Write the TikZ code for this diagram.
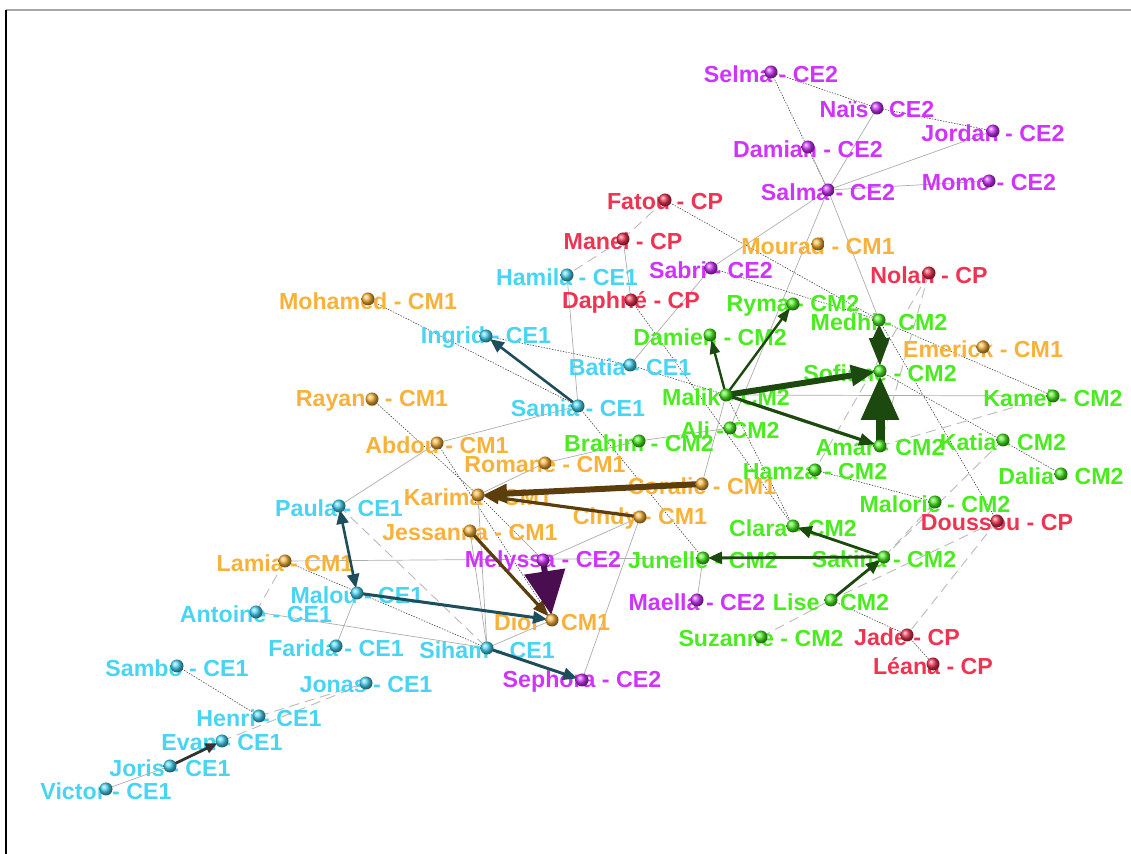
\documentclass[tikz,border=0pt]{standalone}
\usepackage{fontspec}
\setmainfont{Liberation Sans}
\usetikzlibrary{arrows.meta}

\definecolor{cpcol}{RGB}{238,52,82}
\definecolor{ceonecol}{RGB}{72,212,242}
\definecolor{cetwocol}{RGB}{206,52,250}
\definecolor{cmonecol}{RGB}{246,178,58}
\definecolor{cmtwocol}{RGB}{74,236,32}
\definecolor{brownarr}{RGB}{92,62,14}
\definecolor{greenarr}{RGB}{28,74,14}
\definecolor{tealarr}{RGB}{30,78,92}
\definecolor{purplearr}{RGB}{74,14,80}

\tikzset{
  ball/.style={circle,inner sep=0pt,minimum size=6.5pt,shade,ball color=#1},
  lab/.style={text=#1,font=\fontsize{11.6}{13}\selectfont\bfseries,inner sep=0pt,yshift=-1pt},
  dotedge/.style={black!75,line width=0.3pt,dash pattern=on 0.7pt off 0.7pt},
  greyedge/.style={gray!65,line width=0.35pt},
  dashedge/.style={gray!55,line width=0.45pt,dash pattern=on 5pt off 3pt},
  bigarr/.style={line width=#1,shorten >=2.5pt,shorten <=2pt}
}

\begin{document}
\begin{tikzpicture}[x=0.5pt,y=-0.5pt]
\useasboundingbox (0,0) rectangle (1131,854);
\draw[gray!70,line width=0.8pt] (6,10) -- (1131,10);
\draw[line width=0.8pt] (6,10) -- (6,854);

% CE2
\coordinate (selma) at (771,72);
\coordinate (nais) at (877,108);
\coordinate (jordan) at (993,131);
\coordinate (damian) at (808,147);
\coordinate (momo) at (989,181);
\coordinate (salma) at (828,190);
\coordinate (sabri) at (711,268);
\coordinate (melyssa) at (543,560);
\coordinate (maella) at (697,600);
\coordinate (sephora) at (582,680);
% CP
\coordinate (fatou) at (665,200);
\coordinate (manel) at (623,239);
\coordinate (nolan) at (929,273);
\coordinate (daphne) at (631,300);
\coordinate (doussou) at (997,521);
\coordinate (jade) at (907,635);
\coordinate (leana) at (933,664);
% CM1
\coordinate (mourad) at (818,244);
\coordinate (mohamed) at (368,299);
\coordinate (emerick) at (983,347);
\coordinate (rayane) at (372,399);
\coordinate (abdou) at (437,443);
\coordinate (romane) at (545,463);
\coordinate (coralie) at (702,484);
\coordinate (karima) at (478,495);
\coordinate (cindy) at (640,517);
\coordinate (jessanna) at (470,531);
\coordinate (lamia) at (285,561);
\coordinate (dior) at (552,620);
% CM2
\coordinate (ryma) at (793,304);
\coordinate (medhi) at (879,320);
\coordinate (damien) at (710,335);
\coordinate (sofiane) at (880,371);
\coordinate (malik) at (726,395);
\coordinate (kamel) at (1053,396);
\coordinate (ali) at (730,428);
\coordinate (brahim) at (639,441);
\coordinate (katia) at (1003,440);
\coordinate (amar) at (880,446);
\coordinate (hamza) at (815,470);
\coordinate (dalia) at (1061,474);
\coordinate (malorie) at (935,502);
\coordinate (clara) at (793,526);
\coordinate (junelle) at (703,558);
\coordinate (sakina) at (884,557);
\coordinate (lise) at (831,600);
\coordinate (suzanne) at (761,637);
% CE1
\coordinate (hamila) at (567,275);
\coordinate (ingrid) at (486,336);
\coordinate (batia) at (630,365);
\coordinate (samia) at (578,406);
\coordinate (paula) at (339,506);
\coordinate (malou) at (357,593);
\coordinate (antoine) at (256,612);
\coordinate (farida) at (336,646);
\coordinate (siham) at (487,648);
\coordinate (sambo) at (177,666);
\coordinate (jonas) at (366,683);
\coordinate (henri) at (259,716);
\coordinate (evan) at (222,741);
\coordinate (joris) at (170,766);
\coordinate (victor) at (106,789);

% thin links
\draw[dotedge] (selma) -- (nais);
\draw[dotedge] (nais) -- (jordan);
\draw[dotedge] (selma) -- (salma);
\draw[greyedge] (damian) -- (salma);
\draw[greyedge] (nais) -- (salma);
\draw[greyedge] (jordan) -- (salma);
\draw[greyedge] (momo) -- (salma);
\draw[greyedge] (salma) -- (sabri);
\draw[greyedge] (salma) -- (medhi);
\draw[greyedge] (salma) -- (ali);
\draw[dotedge] (fatou) -- (medhi);
\draw[dashedge] (fatou) -- (manel);
\draw[dashedge] (manel) -- (hamila);
\draw[greyedge] (manel) -- (daphne);
\draw[dotedge] (daphne) -- (clara);
\draw[greyedge] (hamila) -- (samia);
\draw[greyedge] (sabri) -- (batia);
\draw[dotedge] (sabri) -- (medhi);
\draw[dashedge] (nolan) -- (hamza);
\draw[dashedge] (nolan) -- (amar);
\draw[dotedge] (medhi) -- (kamel);
\draw[dotedge] (medhi) -- (doussou);
\draw[dotedge] (sofiane) -- (dalia);
\draw[greyedge] (malik) -- (kamel);
\draw[dashedge] (amar) -- (kamel);
\draw[dashedge] (katia) -- (sakina);
\draw[dashedge] (sakina) -- (malorie);
\draw[dotedge] (hamza) -- (malorie);
\draw[dashedge] (doussou) -- (jade);
\draw[dashedge] (doussou) -- (lise);
\draw[dotedge] (lise) -- (jade);
\draw[dotedge] (jade) -- (leana);
\draw[dashedge] (suzanne) -- (lise);
\draw[dotedge] (malik) -- (clara);
\draw[greyedge] (junelle) -- (maella);
\draw[greyedge] (cindy) -- (sephora);
\draw[dotedge] (mohamed) -- (samia);
\draw[dotedge] (ingrid) -- (batia);
\draw[dotedge] (batia) -- (malik);
\draw[dotedge] (samia) -- (junelle);
\draw[greyedge] (abdou) -- (samia);
\draw[greyedge] (romane) -- (brahim);
\draw[greyedge] (brahim) -- (ali);
\draw[greyedge] (coralie) -- (malik);
\draw[greyedge] (romane) -- (karima);
\draw[dotedge] (rayane) -- (karima);
\draw[dotedge] (abdou) -- (dior);
\draw[dotedge] (karima) -- (melyssa);
\draw[greyedge] (karima) -- (siham);
\draw[greyedge] (jessanna) -- (siham);
\draw[greyedge] (lamia) -- (junelle);
\draw[greyedge] (cindy) -- (melyssa);
\draw[dotedge] (lamia) -- (siham);
\draw[greyedge] (antoine) -- (siham);
\draw[dashedge] (paula) -- (siham);
\draw[dashedge] (lamia) -- (antoine);
\draw[greyedge] (paula) -- (abdou);
\draw[greyedge] (malou) -- (farida);
\draw[greyedge] (siham) -- (dior);
\draw[dotedge] (sambo) -- (henri);
\draw[dashedge] (henri) -- (jonas);
\draw[dashedge] (evan) -- (jonas);
\draw[greyedge] (victor) -- (joris);

% labels
\node[lab=cetwocol] (selmaL) at (selma) {Selma - CE2};
\node[lab=cetwocol] (naisL) at (nais) {Naïs - CE2};
\node[lab=cetwocol] (jordanL) at (jordan) {Jordan - CE2};
\node[lab=cetwocol] (damianL) at (damian) {Damian - CE2};
\node[lab=cetwocol] (momoL) at (momo) {Momo - CE2};
\node[lab=cetwocol] (salmaL) at (salma) {Salma - CE2};
\node[lab=cetwocol] (sabriL) at (sabri) {Sabri - CE2};
\node[lab=cetwocol] (melyssaL) at (melyssa) {Melyssa - CE2};
\node[lab=cetwocol] (maellaL) at (maella) {Maella - CE2};
\node[lab=cetwocol] (sephoraL) at (sephora) {Sephora - CE2};
\node[lab=cpcol] (fatouL) at (fatou) {Fatou - CP};
\node[lab=cpcol] (manelL) at (manel) {Manel - CP};
\node[lab=cpcol] (nolanL) at (nolan) {Nolan - CP};
\node[lab=cpcol] (daphneL) at (daphne) {Daphné - CP};
\node[lab=cpcol] (doussouL) at (doussou) {Doussou - CP};
\node[lab=cpcol] (jadeL) at (jade) {Jade - CP};
\node[lab=cpcol] (leanaL) at (leana) {Léana - CP};
\node[lab=cmonecol] (mouradL) at (mourad) {Mourad - CM1};
\node[lab=cmonecol] (mohamedL) at (mohamed) {Mohamed - CM1};
\node[lab=cmonecol] (emerickL) at (emerick) {Emerick - CM1};
\node[lab=cmonecol] (rayaneL) at (rayane) {Rayane - CM1};
\node[lab=cmonecol] (abdouL) at (abdou) {Abdou - CM1};
\node[lab=cmonecol] (romaneL) at (romane) {Romane - CM1};
\node[lab=cmonecol] (coralieL) at (coralie) {Coralie - CM1};
\node[lab=cmonecol] (karimaL) at (karima) {Karima - CM1};
\node[lab=cmonecol] (cindyL) at (cindy) {Cindy - CM1};
\node[lab=cmonecol] (jessannaL) at (jessanna) {Jessanna - CM1};
\node[lab=cmonecol] (lamiaL) at (lamia) {Lamia - CM1};
\node[lab=cmonecol] (diorL) at (dior) {Dior - CM1};
\node[lab=cmtwocol] (rymaL) at (ryma) {Ryma - CM2};
\node[lab=cmtwocol] (medhiL) at (medhi) {Medhi - CM2};
\node[lab=cmtwocol] (damienL) at (damien) {Damien - CM2};
\node[lab=cmtwocol] (sofianeL) at (sofiane) {Sofiane - CM2};
\node[lab=cmtwocol] (malikL) at (malik) {Malik - CM2};
\node[lab=cmtwocol] (kamelL) at (kamel) {Kamel - CM2};
\node[lab=cmtwocol] (aliL) at (ali) {Ali - CM2};
\node[lab=cmtwocol] (brahimL) at (brahim) {Brahim - CM2};
\node[lab=cmtwocol] (katiaL) at (katia) {Katia - CM2};
\node[lab=cmtwocol] (amarL) at (amar) {Amar - CM2};
\node[lab=cmtwocol] (hamzaL) at (hamza) {Hamza - CM2};
\node[lab=cmtwocol] (daliaL) at (dalia) {Dalia - CM2};
\node[lab=cmtwocol] (malorieL) at (malorie) {Malorie - CM2};
\node[lab=cmtwocol] (claraL) at (clara) {Clara - CM2};
\node[lab=cmtwocol] (junelleL) at (junelle) {Junelle - CM2};
\node[lab=cmtwocol] (sakinaL) at (sakina) {Sakina - CM2};
\node[lab=cmtwocol] (liseL) at (lise) {Lise - CM2};
\node[lab=cmtwocol] (suzanneL) at (suzanne) {Suzanne - CM2};
\node[lab=ceonecol] (hamilaL) at (hamila) {Hamila - CE1};
\node[lab=ceonecol] (ingridL) at (ingrid) {Ingrid - CE1};
\node[lab=ceonecol] (batiaL) at (batia) {Batia - CE1};
\node[lab=ceonecol] (samiaL) at (samia) {Samia - CE1};
\node[lab=ceonecol] (paulaL) at (paula) {Paula - CE1};
\node[lab=ceonecol] (malouL) at (malou) {Malou - CE1};
\node[lab=ceonecol] (antoineL) at (antoine) {Antoine - CE1};
\node[lab=ceonecol] (faridaL) at (farida) {Farida - CE1};
\node[lab=ceonecol] (sihamL) at (siham) {Siham - CE1};
\node[lab=ceonecol] (samboL) at (sambo) {Sambo - CE1};
\node[lab=ceonecol] (jonasL) at (jonas) {Jonas - CE1};
\node[lab=ceonecol] (henriL) at (henri) {Henri - CE1};
\node[lab=ceonecol] (evanL) at (evan) {Evan - CE1};
\node[lab=ceonecol] (jorisL) at (joris) {Joris - CE1};
\node[lab=ceonecol] (victorL) at (victor) {Victor - CE1};

% heavy links
\draw[bigarr=1.3pt,tealarr,-{Triangle[width=6pt,length=7pt]}] (samia) -- (ingrid);
\draw[bigarr=1.2pt,greenarr,-{Triangle[width=5pt,length=7pt]}] (malik) -- (damien);
\draw[bigarr=1.2pt,greenarr,-{Triangle[width=5pt,length=7pt]}] (malik) -- (ryma);
\draw[bigarr=3pt,greenarr,-{Triangle[width=10pt,length=12pt]}] (malik) -- (sofiane);
\draw[bigarr=1.6pt,greenarr,-{Triangle[width=6pt,length=8pt]}] (malik) -- (amar);
\draw[bigarr=2pt,greenarr,{Triangle[width=6pt,length=7pt]}-{Triangle[width=10pt,length=14pt]}] (medhi) -- (sofiane);
\draw[bigarr=4.5pt,greenarr,-{Triangle[width=18pt,length=22pt]}] (amar) -- (sofiane);
\draw[bigarr=3pt,brownarr,-{Triangle[width=9pt,length=12pt]}] (coralie) -- (karima);
\draw[bigarr=1.6pt,brownarr,-{Triangle[width=6pt,length=8pt]}] (cindy) -- (karima);
\draw[bigarr=1.6pt,brownarr,-{Triangle[width=6pt,length=8pt]}] (jessanna) -- (dior);
\draw[bigarr=3pt,purplearr,-{Triangle[width=20pt,length=22pt]}] (melyssa) -- (dior);
\draw[bigarr=1.3pt,tealarr,{Triangle[width=6pt,length=7pt]}-{Triangle[width=6pt,length=7pt]}] (paula) -- (malou);
\draw[bigarr=1.5pt,tealarr,-{Triangle[width=6pt,length=7pt]}] (malou) -- (dior);
\draw[bigarr=1.5pt,tealarr,-{Triangle[width=6pt,length=7pt]}] (siham) -- (sephora);
\draw[bigarr=1.4pt,greenarr,-{Triangle[width=6pt,length=7pt]}] (sakina) -- (junelle);
\draw[bigarr=1.4pt,greenarr,-{Triangle[width=6pt,length=7pt]}] (sakina) -- (clara);
\draw[bigarr=1.4pt,greenarr,-{Triangle[width=6pt,length=7pt]}] (lise) -- (sakina);
\draw[bigarr=1.4pt,black!80,-{Triangle[width=5pt,length=6pt]}] (joris) -- (evan);

% balls
\foreach \n in {selma,nais,jordan,damian,momo,salma,sabri,melyssa,maella,sephora}
  \node[ball=cetwocol] (\n B) at (\n) {};
\foreach \n in {fatou,manel,nolan,daphne,doussou,jade,leana}
  \node[ball=cpcol] (\n B) at (\n) {};
\foreach \n in {mourad,mohamed,emerick,rayane,abdou,romane,coralie,karima,cindy,jessanna,lamia,dior}
  \node[ball=cmonecol] (\n B) at (\n) {};
\foreach \n in {ryma,medhi,damien,sofiane,malik,kamel,ali,brahim,katia,amar,hamza,dalia,malorie,clara,junelle,sakina,lise,suzanne}
  \node[ball=cmtwocol] (\n B) at (\n) {};
\foreach \n in {hamila,ingrid,batia,samia,paula,malou,antoine,farida,siham,sambo,jonas,henri,evan,joris,victor}
  \node[ball=ceonecol] (\n B) at (\n) {};
\end{tikzpicture}
\end{document}
